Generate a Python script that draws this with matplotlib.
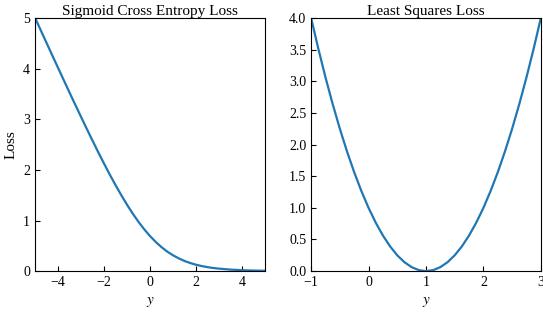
import matplotlib
matplotlib.use("Agg")
import matplotlib.pyplot as plt

# sigmoid cross entropy loss
y_sig = [-5.0, -4.75, -4.5, -4.25, -4.0, -3.75, -3.5, -3.25, -3.0, -2.75,
         -2.5, -2.25, -2.0, -1.75, -1.5, -1.25, -1.0, -0.75, -0.5, -0.25,
         0.0, 0.25, 0.5, 0.75, 1.0, 1.25, 1.5, 1.75, 2.0, 2.25, 2.5, 2.75,
         3.0, 3.5, 4.0, 4.5, 5.0]
loss_sig = [5.007, 4.759, 4.511, 4.264, 4.018, 3.773, 3.530, 3.288, 3.049, 2.812,
            2.579, 2.349, 2.127, 1.908, 1.701, 1.502, 1.313, 1.136, 0.974, 0.826,
            0.693, 0.576, 0.474, 0.386, 0.313, 0.252, 0.201, 0.160, 0.127, 0.100,
            0.079, 0.062, 0.049, 0.030, 0.018, 0.011, 0.007]

# least squares loss
y_ls = [-1.0, -0.875, -0.75, -0.625, -0.5, -0.375, -0.25, -0.125, 0.0,
        0.125, 0.25, 0.375, 0.5, 0.625, 0.75, 0.875, 1.0,
        1.125, 1.25, 1.375, 1.5, 1.625, 1.75, 1.875, 2.0,
        2.125, 2.25, 2.375, 2.5, 2.625, 2.75, 2.875, 3.0]
loss_ls = [4.0, 3.516, 3.063, 2.641, 2.25, 1.891, 1.563, 1.266, 1.0,
           0.766, 0.563, 0.391, 0.25, 0.141, 0.063, 0.016, 0.0,
           0.016, 0.063, 0.141, 0.25, 0.391, 0.563, 0.766, 1.0,
           1.266, 1.563, 1.891, 2.25, 2.641, 3.063, 3.516, 4.0]

plt.rcParams["font.family"] = ["Liberation Serif", "DejaVu Serif"]
plt.rcParams["mathtext.fontset"] = "stix"
plt.rcParams["xtick.direction"] = "in"
plt.rcParams["ytick.direction"] = "in"

fig = plt.figure(figsize=(5.43, 3.12), dpi=100)
ax1 = fig.add_axes([0.0645, 0.131, 0.4235, 0.811])
ax2 = fig.add_axes([0.573, 0.131, 0.423, 0.811])

ax1.plot(y_sig, loss_sig, color="#1f77b4", lw=1.6)
ax1.set(xlim=[-5, 5], ylim=[0, 5])
ax1.set_xticks([-4, -2, 0, 2, 4])
ax1.set_title("Sigmoid Cross Entropy Loss", fontsize=11, pad=2.5)
ax1.set_xlabel(r"$y$", fontsize=11)
ax1.set_ylabel("Loss", fontsize=11)

ax2.plot(y_ls, loss_ls, color="#1f77b4", lw=1.6)
ax2.set(xlim=[-1, 3], ylim=[0, 4])
ax2.set_xticks([-1, 0, 1, 2, 3])
ax2.set_title("Least Squares Loss", fontsize=11, pad=2.5)
ax2.set_xlabel(r"$y$", fontsize=11)

for ax in (ax1, ax2):
    ax.tick_params(labelsize=10)

fig.savefig("out.png", dpi=100)
